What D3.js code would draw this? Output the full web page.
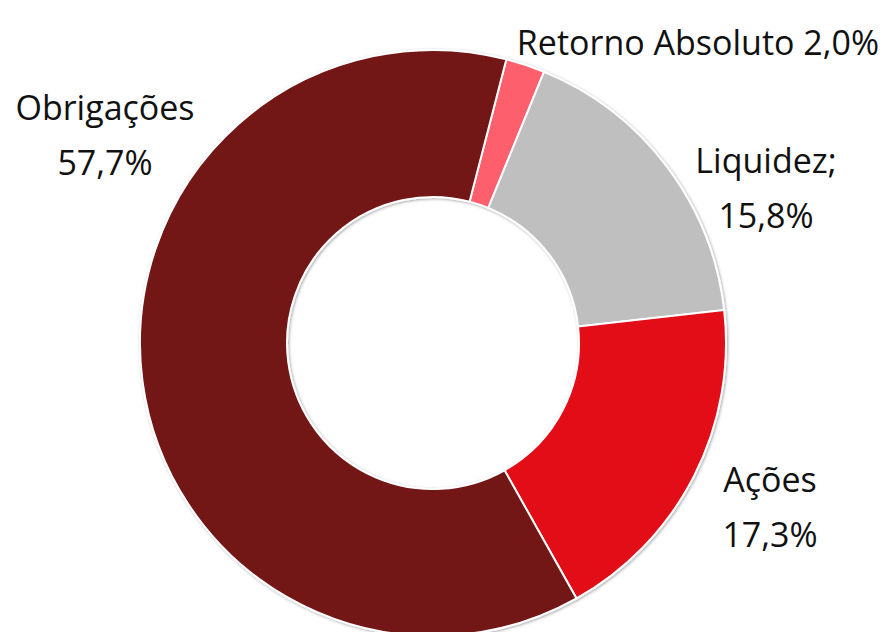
<!DOCTYPE html>
<html>
<head>
<meta charset="utf-8">
<script src="https://cdn.jsdelivr.net/npm/d3@7"></script>
<style>
  body { margin: 0; background: #fff; }
  text { font-family: "Open Sans", "Noto Sans", sans-serif; fill: #111; }
</style>
</head>
<body>
<div id="chart"></div>
<script>
// data
var categories = ["Retorno Absoluto", "Liquidez;", "Ações", "Obrigações"];
var values = [2.0, 15.8, 17.3, 57.7];
var valueLabels = ["2,0%", "15,8%", "17,3%", "57,7%"];
var colors = ["#fe5f6c", "#bfbfbf", "#e20914", "#731312"];

var width = 883, height = 632;
var cx = 433, cy = 343;
var outerR = 293, innerR = 146;
var start = 14.5 * Math.PI / 180;

var svg = d3.select("#chart").append("svg")
    .attr("width", width)
    .attr("height", height);

//soft shadow round the ring
var defs = svg.append("defs");
var f = defs.append("filter").attr("id", "shadow")
    .attr("x", "-10%").attr("y", "-10%").attr("width", "120%").attr("height", "120%");
f.append("feDropShadow")
    .attr("dx", 1).attr("dy", 1)
    .attr("stdDeviation", 1.5)
    .attr("flood-color", "#000")
    .attr("flood-opacity", 0.35);

var pie = d3.pie()
    .sort(null)
    .value(d => d)
    .startAngle(start)
    .endAngle(start + 2 * Math.PI);

var arc = d3.arc().innerRadius(innerR).outerRadius(outerR);

var g = svg.append("g")
    .attr("transform", "translate(" + cx + "," + cy + ")")
    .attr("filter", "url(#shadow)");

g.selectAll("path")
    .data(pie(values))
    .enter().append("path")
    .attr("d", arc)
    .attr("fill", (d, i) => colors[i])
    .attr("stroke", "#fff")
    .attr("stroke-width", 2);

// label placement (x, y of first line)
var labelPos = [
    { x: 698, y: 55, single: true },
    { x: 766, y: 173 },
    { x: 770, y: 492 },
    { x: 105, y: 120 }
];
var fs = 34;

var labels = svg.append("g");
for (var i = 0; i < categories.length; i++) {
    var p = labelPos[i];
    if (p.single) {
        labels.append("text")
            .attr("x", p.x).attr("y", p.y)
            .attr("font-size", fs)
            .attr("text-anchor", "middle")
            .text(categories[i] + " " + valueLabels[i]);
    } else {
        labels.append("text")
            .attr("x", p.x).attr("y", p.y)
            .attr("font-size", fs)
            .attr("text-anchor", "middle")
            .text(categories[i]);
        labels.append("text")
            .attr("x", p.x).attr("y", p.y + 55)
            .attr("font-size", fs)
            .attr("text-anchor", "middle")
            .text(valueLabels[i]);
    }
}
</script>
</body>
</html>
